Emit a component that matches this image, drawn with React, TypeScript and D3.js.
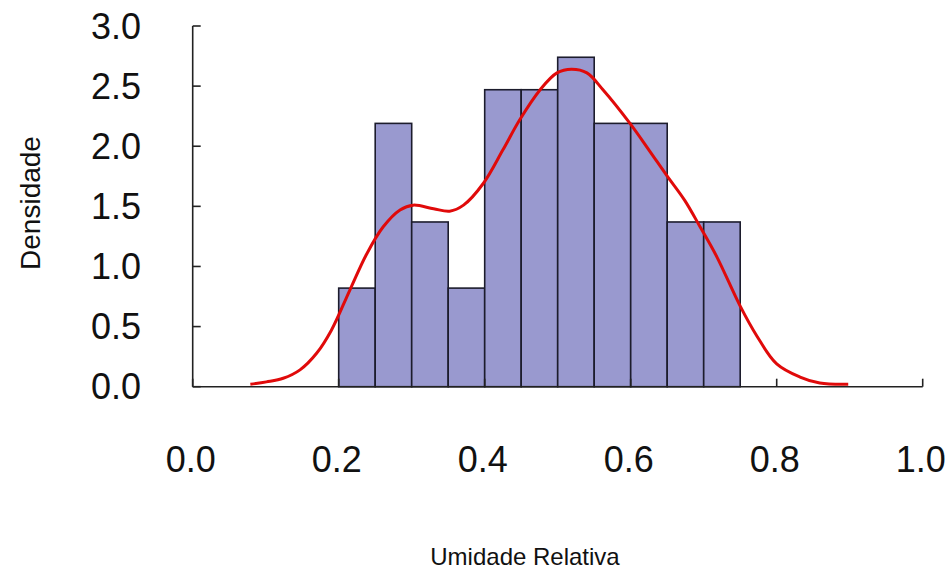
import React from "react";
import * as d3 from "d3";

// Histogram bins (left edges) and their densities
const binEdges = [0.2, 0.25, 0.3, 0.35, 0.4, 0.45, 0.5, 0.55, 0.6, 0.65, 0.7];
const binWidth = 0.05;
const binDensity = [0.82, 2.19, 1.37, 0.82, 2.47, 2.47, 2.74, 2.19, 2.19, 1.37, 1.37];

// Kernel density estimate, sampled along the x axis
const kdeX = [
  0.079, 0.101, 0.124, 0.147, 0.17, 0.19, 0.215, 0.238, 0.261, 0.284,
  0.302, 0.33, 0.352, 0.371, 0.398, 0.425, 0.448, 0.476, 0.499, 0.519, 0.54,
  0.562, 0.599, 0.626, 0.649, 0.674, 0.695, 0.718, 0.75, 0.773, 0.8, 0.832,
  0.859, 0.898,
];
const kdeY = [
  0.02, 0.04, 0.07, 0.14, 0.28, 0.47, 0.8, 1.1, 1.33, 1.47,
  1.51, 1.48, 1.46, 1.51, 1.69, 1.97, 2.22, 2.47, 2.61, 2.64, 2.61,
  2.47, 2.19, 1.96, 1.76, 1.55, 1.33, 1.08, 0.67, 0.42, 0.19, 0.08,
  0.03, 0.02,
];

const xTicks = [0, 0.2, 0.4, 0.6, 0.8, 1.0];
const yTicks = [0, 0.5, 1.0, 1.5, 2.0, 2.5, 3.0];

const xLabel = "Umidade Relativa";
const yLabel = "Densidade";

const W = 952;
const H = 571;
const left = 192.7;
const right = 922.7;
const top = 26;
const bottom = 386.7;

export default function App() {
  const x = d3.scaleLinear().domain([0, 1]).range([left, right]);
  const y = d3.scaleLinear().domain([0, 3]).range([bottom, top]);

  const kde = kdeX.map((v, i) => [v, kdeY[i]] as [number, number]);
  const line = d3
    .line<[number, number]>()
    .x((d) => x(d[0]))
    .y((d) => y(d[1]))
    .curve(d3.curveCatmullRom.alpha(0.5));

  const font = "'Liberation Sans', Arial, sans-serif";
  const tickLen = 8;

  return (
    <svg
      width={W}
      height={H}
      style={{ position: "absolute", left: 0, top: 0, background: "#fff" }}
      fontFamily={font}
    >
      {/* bars */}
      <g>
        {binEdges.map((b, i) => (
          <rect
            key={i}
            x={x(b)}
            y={y(binDensity[i])}
            width={x(b + binWidth) - x(b)}
            height={y(0) - y(binDensity[i])}
            fill="#9999cf"
            stroke="#1c1c2c"
            strokeWidth={1.6}
          />
        ))}
      </g>

      {/* density curve */}
      <path d={line(kde) || ""} fill="none" stroke="#e00a0a" strokeWidth={3} />

      {/* axes */}
      <g stroke="#222" strokeWidth={1.6} fill="none">
        <line x1={x(0)} x2={x(0)} y1={y(3)} y2={y(0)} />
        <line x1={x(0)} x2={x(1)} y1={y(0)} y2={y(0)} />
        {yTicks.map((t) => (
          <line key={"yt" + t} x1={x(0)} x2={x(0) + tickLen} y1={y(t)} y2={y(t)} />
        ))}
        {xTicks.map((t) => (
          <line key={"xt" + t} x1={x(t)} x2={x(t)} y1={y(0)} y2={y(0) - tickLen} />
        ))}
      </g>

      {/* tick labels */}
      <g fontSize={36} fill="#111">
        {yTicks.map((t) => (
          <text key={"yl" + t} x={141} y={y(t)} textAnchor="end" dominantBaseline="central">
            {t.toFixed(1)}
          </text>
        ))}
        {xTicks.map((t) => (
          <text key={"xl" + t} x={x(t) - 2} y={472} textAnchor="middle">
            {t.toFixed(1)}
          </text>
        ))}
      </g>

      {/* axis titles */}
      <text x={525} y={565} textAnchor="middle" fontSize={24} fill="#111">
        {xLabel}
      </text>
      <text
        transform={`translate(40,${203}) rotate(-90)`}
        textAnchor="middle"
        fontSize={28}
        fill="#111"
      >
        {yLabel}
      </text>
    </svg>
  );
}
